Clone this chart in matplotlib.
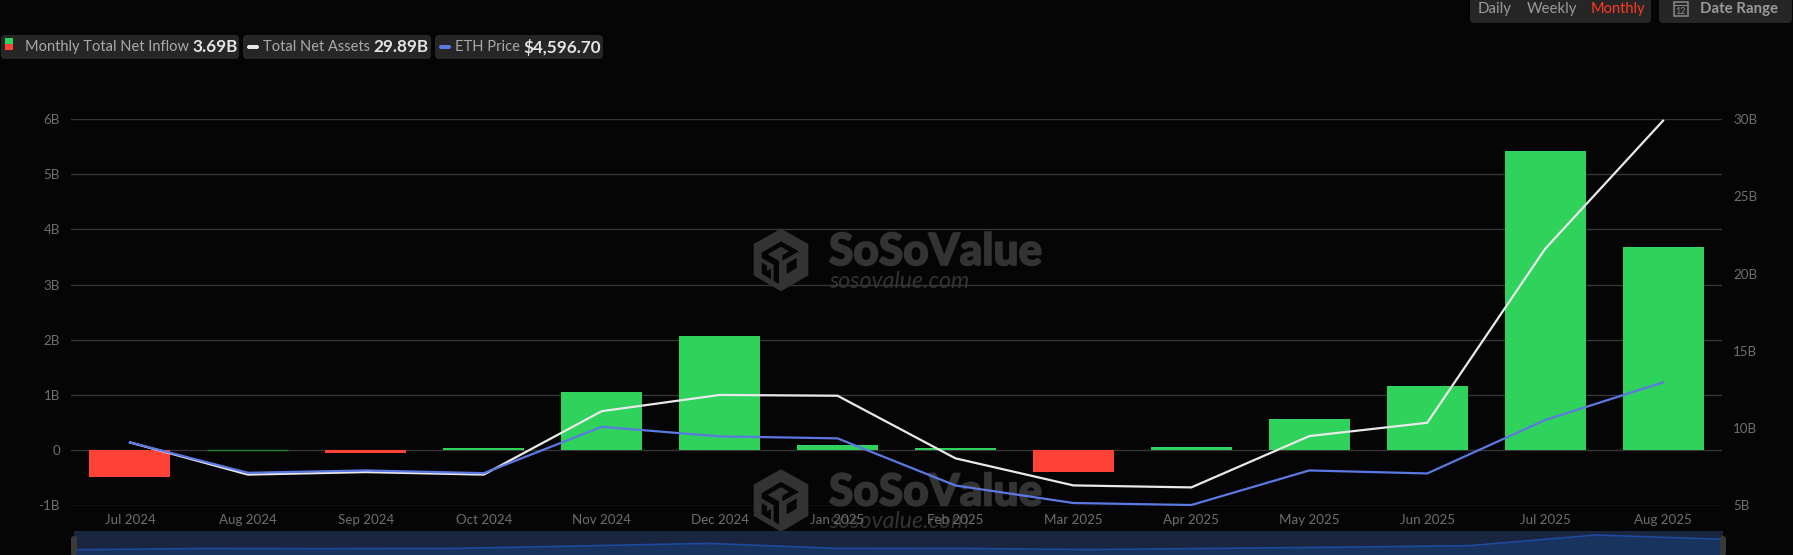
import matplotlib
matplotlib.use("Agg")
import matplotlib.pyplot as plt
import matplotlib.patheffects as pe
from matplotlib.patches import FancyBboxPatch, Polygon, Rectangle
from matplotlib.transforms import Affine2D

months = ["Jul 2024", "Aug 2024", "Sep 2024", "Oct 2024", "Nov 2024", "Dec 2024", "Jan 2025",
          "Feb 2025", "Mar 2025", "Apr 2025", "May 2025", "Jun 2025", "Jul 2025", "Aug 2025"]
inflow = [-0.48, 0.01, -0.05, 0.05, 1.05, 2.07, 0.09, 0.05, -0.40, 0.06, 0.56, 1.16, 5.42, 3.69]
assets = [9.08, 7.00, 7.16, 7.00, 11.10, 12.15, 12.10, 8.05, 6.30, 6.17, 9.49, 10.35, 21.60, 29.89]
eth = [3225, 2530, 2584, 2522, 3580, 3363, 3317, 2240, 1840, 1794, 2584, 2515, 3736, 4596.7]
left_ticks = [-1, 0, 1, 2, 3, 4, 5, 6]
left_labels = ["-1B", "0", "1B", "2B", "3B", "4B", "5B", "6B"]
right_ticks = [5, 10, 15, 20, 25, 30]
right_labels = ["5B", "10B", "15B", "20B", "25B", "30B"]

W, H = 1793, 555
BG = "#050505"; GRID = "#353535"; TICK = "#6e6e6e"
GREEN = "#2fd25a"; RED = "#ff4136"; WHITE = "#e9e9e9"; BLUE = "#5c78e2"; MARK = "#333333"
plt.rcParams["font.family"] = ["Lato", "DejaVu Sans"]

fig = plt.figure(figsize=(W / 100, H / 100), dpi=100, facecolor=BG)
scale_tr = Affine2D().scale(1 / W, 1 / H) + fig.transFigure

def box(x0, y0, x1, y1):
    return [x0 / W, 1 - y1 / H, (x1 - x0) / W, (y1 - y0) / H]

def ftext(x, y, s, **kw):
    kw.setdefault("va", "center")
    return fig.text(x / W, 1 - y / H, s, **kw)

def rrect(x0, y0, x1, y1, color, r=4, z=1):
    fig.add_artist(FancyBboxPatch((x0, H - y1), x1 - x0, y1 - y0,
                                  boxstyle=f"round,pad=0,rounding_size={r}", fc=color, ec="none",
                                  transform=scale_tr, zorder=z))

LOGO_OUTER = [(108, 20), (190, 66), (190, 160), (108, 208), (26, 160), (26, 66)]
LOGO_CUTS = [
    [(50, 92), (108, 58), (162, 88), (112, 116), (112, 100), (132, 88), (108, 74), (68, 97), (102, 117),
     (102, 186), (86, 177), (86, 128), (50, 108)],
    [(50, 122), (66, 131), (66, 147), (78, 140), (78, 172), (50, 155)],
    [(125, 125), (155, 108), (155, 138), (125, 156)],
]

def watermark(dx, dy):
    def place(pts, z, color):
        xy = [(745 + px / 3 + dx, H - (222 + py / 3 + dy)) for px, py in pts]
        fig.add_artist(Polygon(xy, fc=color, ec="none", transform=scale_tr, zorder=z))
    place(LOGO_OUTER, 0.5, MARK)
    for cut in LOGO_CUTS:
        place(cut, 0.6, BG)
    t = ftext(829 + dx, 252 + dy, "SoSoValue", fontsize=31.8, fontweight="black", color=MARK, ha="left", zorder=0.5)
    t.set_path_effects([pe.withStroke(linewidth=1.2, foreground=MARK)])
    ftext(829 + dx, 281 + dy, "sosovalue.com", fontsize=16.7, style="italic", color=MARK, ha="left", zorder=0.5)

watermark(0, 0)
watermark(0, 240.5)

# main chart
ax = fig.add_axes(box(71, 119, 1722, 505.5), facecolor="none", zorder=2)
x = list(range(len(months)))
bar_colors = [GREEN if v >= 0 else RED for v in inflow]
bars = ax.bar(x, inflow, width=0.687, color=bar_colors, zorder=3)
bars[1].set_color("#1f7a3a")
ax.set_xlim(-0.5, 13.5)
ax.set_ylim(-1, 6)
ax.set_yticks(left_ticks, left_labels)
ax.set_xticks(x, months)
ax.grid(axis="y", color=GRID, lw=1, zorder=1)
ax.tick_params(axis="both", length=0, colors=TICK, labelsize=9.6)
ax.tick_params(axis="x", pad=6)
ax.tick_params(axis="y", pad=8)
for s in ax.spines.values():
    s.set_visible(False)

ax2 = ax.twinx()
ax2.set_ylim(5, 30)
ax2.set_yticks(right_ticks, right_labels)
ax2.tick_params(axis="y", length=0, colors=TICK, labelsize=9.6, pad=8)
ax2.plot(x, assets, color=WHITE, lw=1.6, zorder=4, solid_joinstyle="miter")
for s in ax2.spines.values():
    s.set_visible(False)

ax3 = ax.twinx()
ax3.set_ylim(1783, 10615)
ax3.axis("off")
ax3.plot(x, eth, color=BLUE, lw=1.6, zorder=5, solid_joinstyle="miter")

# navigator
nav = fig.add_axes(box(74, 531, 1723, 555), facecolor="#1a2540", zorder=2)
nav.add_patch(Rectangle((0, 0), 1, 1, transform=nav.transAxes, fc="#1a2540", ec="none", zorder=0))
nav.fill_between(x, inflow, -2.58, color="#19335f", lw=0, zorder=1)
nav.plot(x, inflow, color="#1d4a9c", lw=1.2, zorder=2)
nav.set_xlim(0, 13)
nav.set_ylim(-2.58, 7.02)
nav.axis("off")
rrect(71, 536, 77, 556, "#3a3a3a", r=3, z=3)
rrect(1720, 536, 1726, 556, "#3a3a3a", r=3, z=3)

# legend chips
CHIP = "#262626"; LBL = "#a9a9a9"; VAL = "#e4e4e4"
rrect(1, 35, 239, 59, CHIP)
rrect(243, 35, 431, 59, CHIP)
rrect(435, 35, 603, 59, CHIP)
fig.add_artist(Rectangle((5, H - 50), 8, 6, fc=RED, ec="none", transform=scale_tr, zorder=2))
fig.add_artist(Rectangle((5, H - 44), 8, 6, fc=GREEN, ec="none", transform=scale_tr, zorder=2))
rrect(247, 45, 259, 49, WHITE, r=2, z=2)
rrect(439, 45, 451, 49, BLUE, r=2, z=2)
ftext(25, 47, "Monthly Total Net Inflow", fontsize=10.5, color=LBL, zorder=3)
ftext(192, 47, "3.69B", fontsize=12.3, fontweight="bold", color=VAL, zorder=3)
ftext(263, 47, "Total Net Assets", fontsize=10.5, color=LBL, zorder=3)
ftext(373, 47, "29.89B", fontsize=12.3, fontweight="bold", color=VAL, zorder=3)
ftext(455, 47, "ETH Price", fontsize=10.6, color=LBL, zorder=3)
ftext(523, 47, "$4,596.70", fontsize=12.3, fontweight="bold", color=VAL, zorder=3, parse_math=False)

# top-right controls
rrect(1470, -6, 1651, 23, CHIP)
rrect(1659, -6, 1792, 23, CHIP)
ftext(1478, 9, "Daily", fontsize=10.8, color="#9a9a9a", zorder=3)
ftext(1527, 9, "Weekly", fontsize=10.8, color="#9a9a9a", zorder=3)
ftext(1591, 9, "Monthly", fontsize=10.5, color="#ff3b20", zorder=3)
fig.add_artist(Rectangle((1674, H - 16), 14, 14, fc="none", ec="#8a8a8a", lw=1.1, transform=scale_tr, zorder=3))
fig.add_artist(Rectangle((1674, H - 6), 14, 1, fc="#8a8a8a", ec="none", transform=scale_tr, zorder=3))
ftext(1681, 11, "12", fontsize=6.5, color="#8a8a8a", ha="center", zorder=3)
ftext(1700, 9, "Date Range", fontsize=10.8, fontweight="bold", color="#9a9a9a", zorder=3)

fig.savefig("out.png", dpi=100, facecolor=BG)
